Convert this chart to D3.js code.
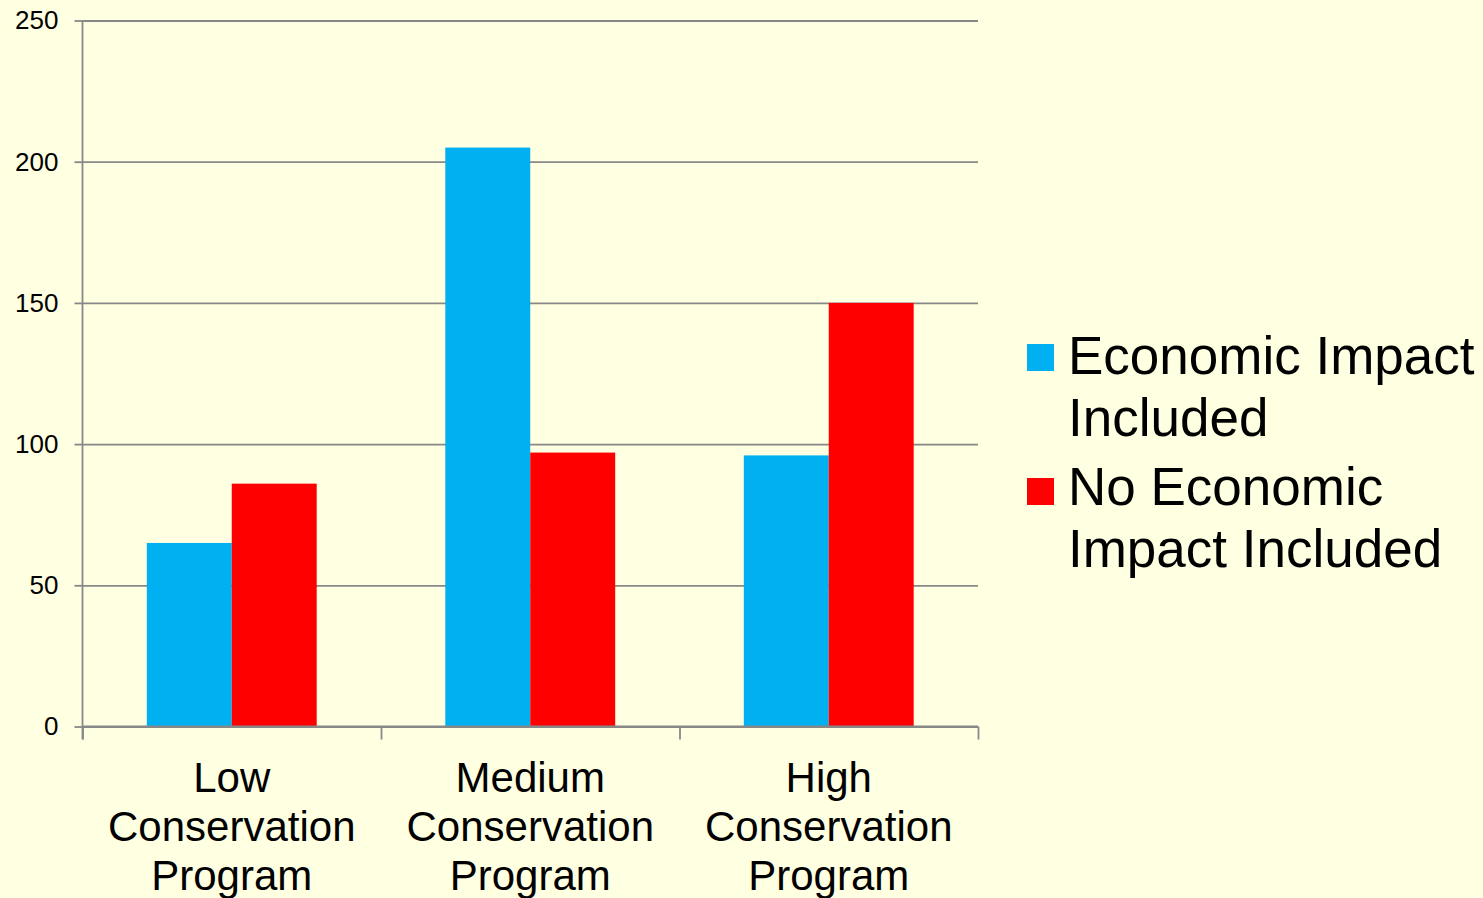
<!DOCTYPE html>
<html>
<head>
<meta charset="utf-8">
<script src="https://cdn.jsdelivr.net/npm/d3@7"></script>
<style>
  html, body { margin: 0; padding: 0; background: #FFFFE1; }
  svg { display: block; font-family: "Liberation Sans", Arial, sans-serif; }
</style>
</head>
<body>
<svg id="chart" width="1483" height="898"></svg>
<script>
// Chart data
const categories = ["Low Conservation Program", "Medium Conservation Program", "High Conservation Program"];
const categoryLines = [["Low", "Conservation", "Program"], ["Medium", "Conservation", "Program"], ["High", "Conservation", "Program"]];
const seriesNames = ["Economic Impact Included", "No Economic Impact Included"];
const legendLines = [["Economic Impact", "Included"], ["No Economic", "Impact Included"]];
const economicImpact = [65, 205, 96];
const noEconomicImpact = [86, 97, 150];
const yTicks = [0, 50, 100, 150, 200, 250];
const seriesColors = ["#00B0F0", "#FF0000"];

(function draw() {
  const svg = d3.select("#chart");
  const plotLeft = 82.5, plotRight = 978, plotTop = 20.5, plotBottom = 726.5;
  const gridColor = "#888888";
  const lineWidth = 1.8;

  const x = d3.scaleBand().domain(categories).range([plotLeft, plotRight]).padding(0);
  const xs = d3.scaleBand().domain(seriesNames).range([0, x.bandwidth()])
    .paddingInner(0).paddingOuter(0.757);
  const y = d3.scaleLinear().domain([0, 250]).range([plotBottom, plotTop]);

  // Horizontal gridlines
  const grid = svg.append("g").attr("transform", `translate(${plotLeft},0)`)
    .call(d3.axisLeft(y).tickValues(yTicks).tickSize(-(plotRight - plotLeft)).tickFormat(""));
  grid.select(".domain").remove();
  grid.selectAll("line").attr("stroke", gridColor).attr("stroke-width", lineWidth);

  // Bars
  const rows = categories.map((c, i) => ({ cat: c, values: [economicImpact[i], noEconomicImpact[i]] }));
  const groups = svg.append("g").selectAll("g").data(rows).join("g")
    .attr("transform", d => `translate(${x(d.cat)},0)`);
  groups.selectAll("rect")
    .data(d => d.values.map((v, j) => ({ series: seriesNames[j], value: v, j })))
    .join("rect")
    .attr("x", d => xs(d.series))
    .attr("width", xs.bandwidth())
    .attr("y", d => y(d.value))
    .attr("height", d => y(0) - y(d.value))
    .attr("fill", d => seriesColors[d.j]);

  // Y axis with labels
  const yAxis = svg.append("g").attr("transform", `translate(${plotLeft},0)`)
    .call(d3.axisLeft(y).tickValues(yTicks).tickSize(8).tickPadding(16).tickSizeOuter(0));
  yAxis.select(".domain").attr("stroke", gridColor).attr("stroke-width", lineWidth)
    .attr("d", `M0,${plotTop}V${plotBottom + 13}`);
  yAxis.selectAll("line").attr("stroke", gridColor).attr("stroke-width", lineWidth);
  yAxis.selectAll("text").attr("font-size", 26).attr("fill", "#000")
    .attr("font-family", "Liberation Sans, Arial, sans-serif");

  // X axis: baseline with tick marks at category boundaries
  const boundaries = categories.map(c => x(c)).concat([plotRight]);
  const xAxis = svg.append("g").attr("transform", `translate(0,${plotBottom})`)
    .call(d3.axisBottom(d3.scaleIdentity()).tickValues(boundaries).tickSize(13).tickFormat("").tickSizeOuter(0));
  xAxis.select(".domain").attr("stroke", gridColor).attr("stroke-width", lineWidth)
    .attr("d", `M${plotLeft},0H${plotRight}`);
  xAxis.selectAll("line").attr("stroke", gridColor).attr("stroke-width", lineWidth);

  // Category labels
  svg.append("g").selectAll("text").data(categories).join("text")
    .attr("x", c => x(c) + x.bandwidth() / 2)
    .attr("y", 792)
    .attr("text-anchor", "middle")
    .attr("font-size", 42)
    .attr("fill", "#000")
    .selectAll("tspan").data((c, i) => categoryLines[i]).join("tspan")
    .attr("x", function () { return d3.select(this.parentNode).attr("x"); })
    .attr("dy", (d, i) => i === 0 ? 0 : 49)
    .text(d => d);

  // Legend
  const legendBaselines = [374, 505];
  const legend = svg.append("g").selectAll("g").data(seriesNames).join("g");
  legend.append("rect")
    .attr("x", 1027).attr("width", 27).attr("height", 27)
    .attr("y", (d, i) => legendBaselines[i] - 30 + i * 3)
    .attr("fill", (d, i) => seriesColors[i]);
  legend.append("text")
    .attr("x", 1068)
    .attr("y", (d, i) => legendBaselines[i])
    .attr("font-size", 53)
    .attr("fill", "#000")
    .selectAll("tspan").data((d, i) => legendLines[i]).join("tspan")
    .attr("x", 1068)
    .attr("dy", (d, i) => i === 0 ? 0 : 62)
    .text(d => d);
})();
</script>
</body>
</html>
